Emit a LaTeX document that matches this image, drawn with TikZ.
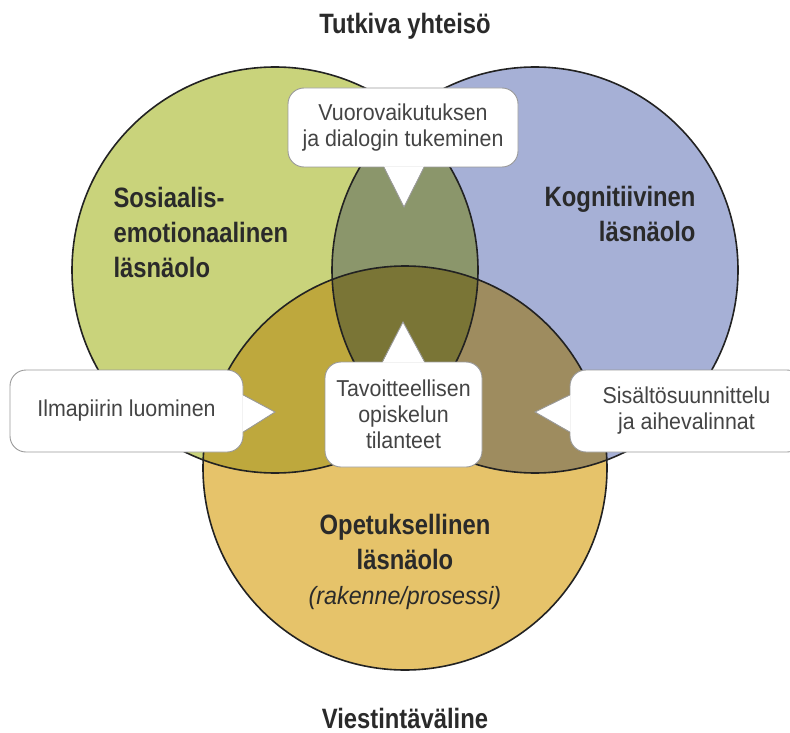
\documentclass[tikz,border=0pt]{standalone}
\usepackage{fontspec}
\setmainfont{Liberation Sans}
\newfontfamily\headfont[FakeStretch=0.85]{Liberation Sans}
\newfontfamily\notefont[FakeStretch=0.93]{Liberation Sans}
\usetikzlibrary{calc}

\definecolor{socgreen}{HTML}{C9D37B}
\definecolor{cogblue}{HTML}{A6B0D6}
\definecolor{teachgold}{HTML}{E6C36A}
\definecolor{greenblue}{HTML}{8B966B}
\definecolor{greengold}{HTML}{BEA83D}
\definecolor{bluegold}{HTML}{9E8C5F}
\definecolor{allthree}{HTML}{7A7536}
\definecolor{ringline}{HTML}{222222}
\definecolor{inkdark}{HTML}{2A2A2A}
\definecolor{notegray}{HTML}{444444}
\definecolor{edgegray}{HTML}{9A9A9A}

\begin{document}
\begin{tikzpicture}[x=1pt,y=-1pt,
  ring/.style={draw=ringline, line width=1.6pt},
  heading/.style={font=\headfont\bfseries\fontsize{28}{35}\selectfont, text=inkdark},
  callout/.style={draw=edgegray, line width=0.9pt, fill=white, rounded corners=16pt,
    font=\notefont\fontsize{23}{26}\selectfont, text=notegray, align=center, inner sep=0pt},
  pointer/.style={draw=edgegray, line width=0.9pt}
]
\path[use as bounding box] (0,0) rectangle (790,733);
\clip (0,0) rectangle (790,733);

% circle centres and radii
\def\socpath{(275,270) circle[radius=203]}
\def\cogpath{(535,270) circle[radius=203]}
\def\teachpath{(405,468) circle[radius=202]}

% base fills
\fill[socgreen] \socpath;
\fill[cogblue] \cogpath;
\fill[teachgold] \teachpath;

% pairwise overlaps
\begin{scope}
  \clip \socpath;
  \fill[greenblue] \cogpath;
\end{scope}
\begin{scope}
  \clip \socpath;
  \fill[greengold] \teachpath;
\end{scope}
\begin{scope}
  \clip \cogpath;
  \fill[bluegold] \teachpath;
\end{scope}
% triple overlap
\begin{scope}
  \clip \socpath;
  \clip \cogpath;
  \fill[allthree] \teachpath;
\end{scope}

% outlines
\draw[ring] \socpath;
\draw[ring] \cogpath;
\draw[ring] \teachpath;

% titles
\node[heading] (community) at (405,26) {Tutkiva yhteisö};
\node[heading] (medium) at (405,718) {Viestintäväline};

% presence labels
\node[heading, align=left, anchor=west] (social) at (110,232)
  {Sosiaalis-\\emotionaalinen\\läsnäolo};
\node[heading, align=right, anchor=east] (cognitive) at (699,214)
  {Kognitiivinen\\läsnäolo};
\node[heading, align=center] (teaching) at (405,562)
  {Opetuksellinen\\läsnäolo\\{\notefont\mdseries\itshape\fontsize{25}{35}\selectfont (rakenne/prosessi)}};

% callout boxes
\node[callout, minimum width=230pt, minimum height=79pt] (dialogue) at (403,127.5)
  {Vuorovaikutuksen\\ja dialogin tukeminen};
\node[callout, minimum width=233pt, minimum height=82pt] (climate) at (126.5,411)
  {Ilmapiirin luominen};
\node[callout, minimum width=233pt, minimum height=82pt] (content) at (686.5,411)
  {Sisältösuunnittelu\\ja aihevalinnat};
\node[callout, minimum width=157pt, minimum height=105pt] (goal) at (403.5,414.5)
  {Tavoitteellisen\\opiskelun\\tilanteet};

% pointer tips
\coordinate (dialoguetip) at (404,207);
\coordinate (climatetip) at (275,412);
\coordinate (contenttip) at (535,412);
\coordinate (goaltip) at (403,322);

% pointers: white wedge over the box edge, then its two slanted sides
\fill[white] ($(dialogue.south)+(-19,-1)$) -- (dialoguetip) -- ($(dialogue.south)+(21,-1)$) -- cycle;
\draw[pointer] ($(dialogue.south)+(-19,0)$) -- (dialoguetip) -- ($(dialogue.south)+(21,0)$);

\fill[white] ($(climate.east)+(-1,-16)$) -- (climatetip) -- ($(climate.east)+(-1,21)$) -- cycle;
\draw[pointer] ($(climate.east)+(0,-16)$) -- (climatetip) -- ($(climate.east)+(0,21)$);

\fill[white] ($(content.west)+(1,-16)$) -- (contenttip) -- ($(content.west)+(1,21)$) -- cycle;
\draw[pointer] ($(content.west)+(0,-16)$) -- (contenttip) -- ($(content.west)+(0,21)$);

\fill[white] ($(goal.north)+(-21,1)$) -- (goaltip) -- ($(goal.north)+(21,1)$) -- cycle;
\draw[pointer] ($(goal.north)+(-21,0)$) -- (goaltip) -- ($(goal.north)+(21,0)$);
\end{tikzpicture}
\end{document}
